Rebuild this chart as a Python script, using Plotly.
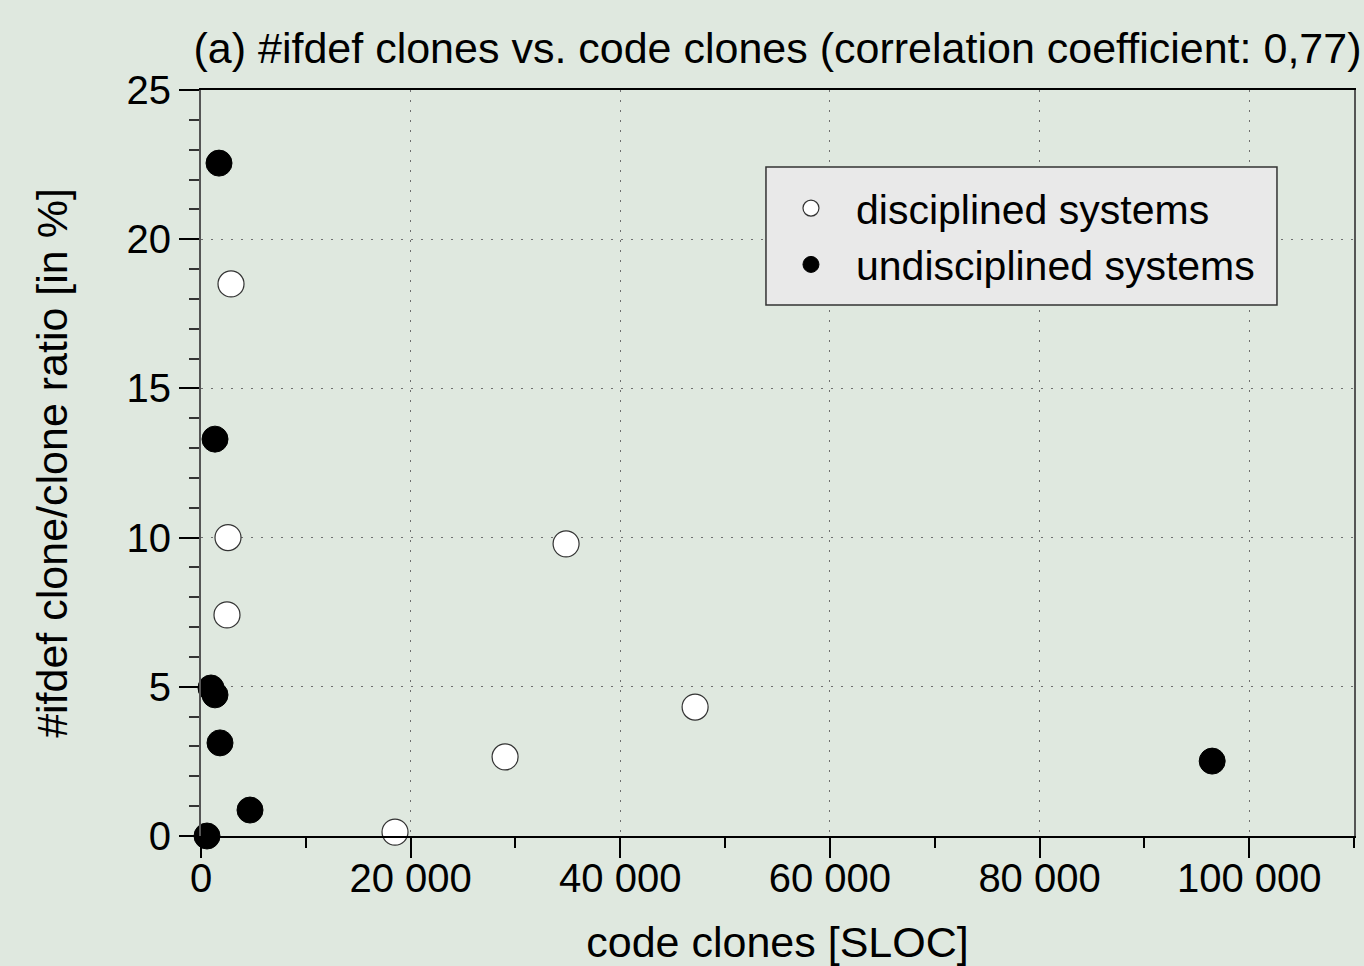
import plotly.graph_objects as go

# Data
disciplined_x = [2863, 2576, 2480, 34830, 47140, 29010, 18510]
disciplined_y = [18.5, 10.0, 7.41, 9.79, 4.32, 2.65, 0.13]

undisciplined_x = [1718, 1336, 954, 1336, 1813, 4676, 573, 96470]
undisciplined_y = [22.55, 13.3, 4.96, 4.73, 3.12, 0.87, 0.0, 2.51]

series_names = ["disciplined systems", "undisciplined systems"]
title_text = "(a) #ifdef clones vs. code clones (correlation coefficient: 0,77)"
x_title = "code clones [SLOC]"
y_title = "#ifdef clone/clone ratio [in %]"

FONT = "Liberation Sans, Arial, Helvetica, sans-serif"
BG = "#dfe8df"

fig = go.Figure()
fig.add_trace(go.Scatter(
    x=disciplined_x, y=disciplined_y, mode="markers", name=series_names[0],
    marker=dict(size=26, color="white", line=dict(color="#333333", width=1.2)),
    cliponaxis=False,
))
fig.add_trace(go.Scatter(
    x=undisciplined_x, y=undisciplined_y, mode="markers", name=series_names[1],
    marker=dict(size=26, color="black", line=dict(color="black", width=1)),
    cliponaxis=False,
))

# legend frame (box behind the legend entries)
fig.add_shape(type="rect", xref="paper", yref="paper",
              x0=0.4900, x1=0.9332, y0=0.7118, y1=0.8968,
              fillcolor="#e9e9e9", line=dict(color="#333333", width=1.5),
              layer="above")

fig.update_layout(
    width=1364, height=966,
    margin=dict(l=201, r=10, t=90, b=130),
    paper_bgcolor=BG, plot_bgcolor=BG,
    font=dict(family=FONT, size=40, color="black"),
    separators=", ",
    title=dict(text=title_text, x=0.5, xref="paper", xanchor="center",
               y=1 - 48 / 966, yanchor="middle",
               font=dict(family=FONT, size=43, color="black")),
    showlegend=True,
    legend=dict(x=0.49, y=0.8861, xanchor="left", yanchor="top",
                bgcolor="rgba(0,0,0,0)", borderwidth=0,
                font=dict(family=FONT, size=41, color="black"),
                itemwidth=80, tracegroupgap=0),
)

GRID_DASH = "1.5px,8.5px"

fig.update_xaxes(
    range=[0, 110000], dtick=20000, tick0=0, tickformat=",d",
    showline=True, linecolor="black", linewidth=1.5, mirror=True,
    ticks="outside", ticklen=20, tickwidth=1.5, tickcolor="black",
    minor=dict(ticks="outside", ticklen=10, dtick=10000, tickwidth=1.5,
               tickcolor="black", showgrid=False),
    showgrid=True, gridcolor="#6f6f6f", griddash=GRID_DASH, gridwidth=1.2,
    zeroline=False, automargin=False, ticklabelstandoff=-14,
    tickfont=dict(family=FONT, size=40, color="black"),
    title=dict(text=x_title, standoff=40, font=dict(family=FONT, size=43, color="black")),
)
fig.update_yaxes(
    range=[0, 25], dtick=5, tick0=0,
    showline=True, linecolor="#555555", linewidth=2, mirror=True,
    ticks="outside", ticklen=20, tickwidth=1.5, tickcolor="black",
    minor=dict(ticks="outside", ticklen=10, dtick=1, tickwidth=1.5,
               tickcolor="#333333", showgrid=False),
    showgrid=True, gridcolor="#6f6f6f", griddash=GRID_DASH, gridwidth=1.2,
    zeroline=False, automargin=False,
    tickfont=dict(family=FONT, size=40, color="black"),
    title=dict(text=y_title, standoff=45, font=dict(family=FONT, size=43, color="black")),
)

fig.write_html("out.html",
               config={"displayModeBar": False},
               post_script="document.body.style.margin='0';document.body.style.overflow='hidden';")
